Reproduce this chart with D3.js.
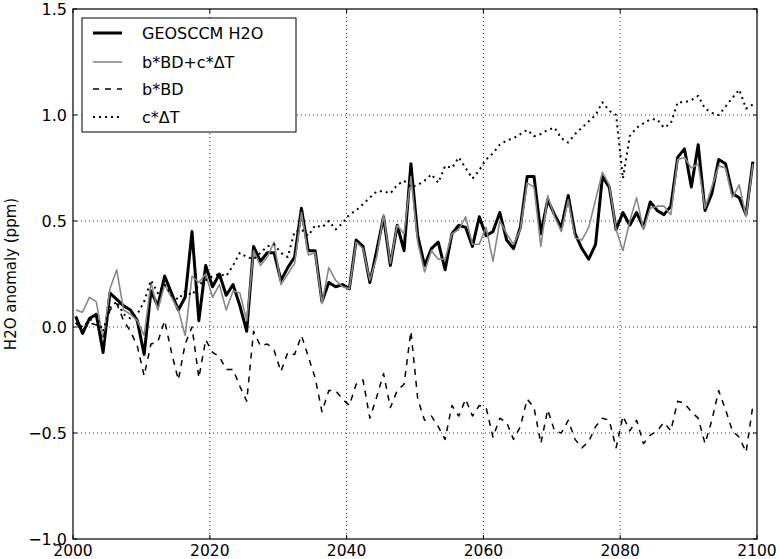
<!DOCTYPE html>
<html><head><meta charset="utf-8">
<script src="https://cdn.jsdelivr.net/npm/d3@7"></script>
<style>body{margin:0;background:#fff;} svg{display:block;font-family:"DejaVu Sans",sans-serif;}</style>
</head><body>
<svg id="c" width="780" height="559"></svg>
<script>
const years = d3.range(2000, 2100);
const geosccm = [0.05,-0.03,0.04,0.06,-0.12,0.16,0.13,0.10,0.08,0.03,
 -0.13,0.17,0.10,0.24,0.16,0.08,0.14,0.45,0.03,0.29,
 0.19,0.25,0.15,0.20,0.10,-0.02,0.38,0.31,0.35,0.35,
 0.22,0.28,0.33,0.56,0.36,0.36,0.12,0.21,0.19,0.20,
 0.18,0.41,0.38,0.21,0.36,0.52,0.29,0.48,0.36,0.77,
 0.43,0.29,0.37,0.40,0.27,0.44,0.48,0.47,0.38,0.52,
 0.43,0.45,0.54,0.41,0.37,0.47,0.71,0.71,0.44,0.60,
 0.53,0.47,0.62,0.44,0.37,0.32,0.39,0.71,0.66,0.46,
 0.54,0.48,0.54,0.47,0.59,0.55,0.53,0.57,0.80,0.84,
 0.66,0.86,0.55,0.63,0.79,0.77,0.63,0.61,0.53,0.78];
const fitTotal = [0.08,0.07,0.14,0.12,-0.06,0.18,0.27,0.08,0.06,0.03,
 -0.04,0.21,0.08,0.20,0.14,0.08,-0.04,0.24,0.21,0.25,
 0.14,0.20,0.08,0.17,0.16,0.03,0.36,0.29,0.33,0.40,
 0.20,0.25,0.30,0.54,0.34,0.35,0.11,0.28,0.22,0.19,
 0.18,0.40,0.37,0.22,0.33,0.53,0.30,0.48,0.44,0.71,
 0.40,0.26,0.36,0.32,0.32,0.44,0.46,0.52,0.39,0.39,
 0.47,0.31,0.50,0.44,0.39,0.46,0.68,0.66,0.38,0.62,
 0.52,0.45,0.60,0.42,0.41,0.47,0.60,0.73,0.67,0.46,
 0.36,0.50,0.61,0.46,0.56,0.57,0.57,0.53,0.79,0.80,
 0.75,0.77,0.56,0.66,0.76,0.75,0.61,0.67,0.52,0.77];
const bdTerm = [0.02,-0.02,0.02,0.01,-0.06,0.08,0.11,0.03,-0.02,-0.09,
 -0.23,-0.08,-0.07,0.03,-0.12,-0.25,-0.08,0.00,-0.24,-0.06,
 -0.12,-0.14,-0.20,-0.20,-0.28,-0.35,-0.02,-0.09,-0.08,-0.11,
 -0.21,-0.12,-0.13,-0.04,-0.14,-0.24,-0.40,-0.30,-0.30,-0.34,
 -0.37,-0.27,-0.25,-0.43,-0.33,-0.22,-0.38,-0.30,-0.27,-0.02,
 -0.34,-0.44,-0.42,-0.47,-0.53,-0.37,-0.42,-0.34,-0.42,-0.37,
 -0.38,-0.52,-0.43,-0.45,-0.53,-0.47,-0.34,-0.38,-0.55,-0.39,
 -0.49,-0.50,-0.44,-0.53,-0.57,-0.54,-0.47,-0.43,-0.44,-0.57,
 -0.42,-0.49,-0.44,-0.55,-0.51,-0.49,-0.45,-0.49,-0.35,-0.36,
 -0.40,-0.43,-0.55,-0.44,-0.30,-0.39,-0.49,-0.52,-0.59,-0.37];
const dtTerm = [0.02,0.00,0.03,0.05,-0.02,0.09,0.12,0.06,0.04,0.06,
 0.12,0.22,0.16,0.20,0.15,0.13,0.17,0.15,0.20,0.22,
 0.24,0.25,0.24,0.29,0.35,0.33,0.32,0.35,0.38,0.39,
 0.35,0.33,0.45,0.46,0.43,0.48,0.47,0.50,0.46,0.49,
 0.53,0.55,0.58,0.61,0.64,0.64,0.63,0.67,0.69,0.66,
 0.67,0.69,0.72,0.68,0.76,0.75,0.80,0.75,0.70,0.74,
 0.79,0.82,0.86,0.88,0.89,0.91,0.93,0.90,0.91,0.93,
 0.94,0.89,0.87,0.91,0.94,0.97,1.00,1.06,1.02,1.00,
 0.70,0.90,0.94,0.96,0.98,0.98,0.94,0.96,1.06,1.06,
 1.07,1.09,1.03,1.01,1.00,1.04,1.08,1.12,1.03,1.05];
const xTicks = [2000,2020,2040,2060,2080,2100];
const yTicks = [-1.0,-0.5,0.0,0.5,1.0,1.5];
const seriesNames = ["GEOSCCM H2O","b*BD+c*\u0394T","b*BD","c*\u0394T"];

const svg = d3.select("#c");
const L=73, R=757, T=9, B=539;
const x = d3.scaleLinear().domain([2000,2100]).range([L,R]);
const y = d3.scaleLinear().domain([-1.0,1.5]).range([B,T]);
const fmt = v => (v<0?"\u2212":"") + Math.abs(v).toFixed(1);

// grid
const g = svg.append("g");
g.selectAll(".gx").data(xTicks.slice(1,-1)).join("line")
 .attr("x1",d=>x(d)).attr("x2",d=>x(d)).attr("y1",T).attr("y2",B)
 .attr("stroke","#000").attr("stroke-width",0.8).attr("stroke-dasharray","1,3");
g.selectAll(".gy").data(yTicks.slice(1,-1)).join("line")
 .attr("y1",d=>y(d)).attr("y2",d=>y(d)).attr("x1",L).attr("x2",R)
 .attr("stroke","#000").attr("stroke-width",0.8).attr("stroke-dasharray","1,3");

const pts = arr => arr.map((v,i)=>[years[i]+0.4, v]);
const line = d3.line().x(d=>x(d[0])).y(d=>y(d[1]));
const styles = [
 {data:geosccm, stroke:"#000", w:3, dash:null},
 {data:fitTotal, stroke:"#888", w:1.6, dash:null},
 {data:bdTerm, stroke:"#000", w:1.5, dash:"6,6"},
 {data:dtTerm, stroke:"#000", w:2, dash:"2,4"}
];
svg.append("clipPath").attr("id","pc").append("rect")
 .attr("x",L).attr("y",T).attr("width",R-L).attr("height",B-T);
styles.forEach(s=>{
  svg.append("path").attr("d",line(pts(s.data))).attr("fill","none")
   .attr("stroke",s.stroke).attr("stroke-width",s.w)
   .attr("stroke-linejoin","round")
   .attr("stroke-dasharray",s.dash).attr("clip-path","url(#pc)");
});

// frame
svg.append("rect").attr("x",L).attr("y",T).attr("width",R-L).attr("height",B-T)
 .attr("fill","none").attr("stroke","#000").attr("stroke-width",1.2);
// ticks
xTicks.forEach(t=>{
  svg.append("line").attr("x1",x(t)).attr("x2",x(t)).attr("y1",B).attr("y2",B-4).attr("stroke","#000");
  svg.append("line").attr("x1",x(t)).attr("x2",x(t)).attr("y1",T).attr("y2",T+4).attr("stroke","#000");
  svg.append("text").attr("x",x(t)).attr("y",B+5).attr("dy","0.76em")
   .attr("text-anchor","middle").attr("font-size",15.5).text(t);
});
yTicks.forEach(t=>{
  svg.append("line").attr("y1",y(t)).attr("y2",y(t)).attr("x1",L).attr("x2",L+4).attr("stroke","#000");
  svg.append("line").attr("y1",y(t)).attr("y2",y(t)).attr("x1",R).attr("x2",R-4).attr("stroke","#000");
  svg.append("text").attr("x",L-6).attr("y",y(t)).attr("dy","0.36em")
   .attr("text-anchor","end").attr("font-size",16).text(fmt(t));
});
svg.append("text").attr("transform","translate(16,274) rotate(-90)")
 .attr("text-anchor","middle").attr("font-size",15).text("H2O anomaly (ppm)");

// legend
const lg = svg.append("g");
lg.append("rect").attr("x",82).attr("y",18).attr("width",214).attr("height",114)
 .attr("fill","#fff").attr("stroke","#000").attr("stroke-width",1);
const rows=[33,62,89,117];
styles.forEach((s,i)=>{
  lg.append("line").attr("x1",93).attr("x2",122).attr("y1",rows[i]).attr("y2",rows[i])
   .attr("stroke",s.stroke).attr("stroke-width",s.w).attr("stroke-dasharray",s.dash);
  lg.append("text").attr("x",142).attr("y",rows[i]).attr("dy","0.36em")
   .attr("font-size",16).text(seriesNames[i]);
});
</script>
</body></html>
